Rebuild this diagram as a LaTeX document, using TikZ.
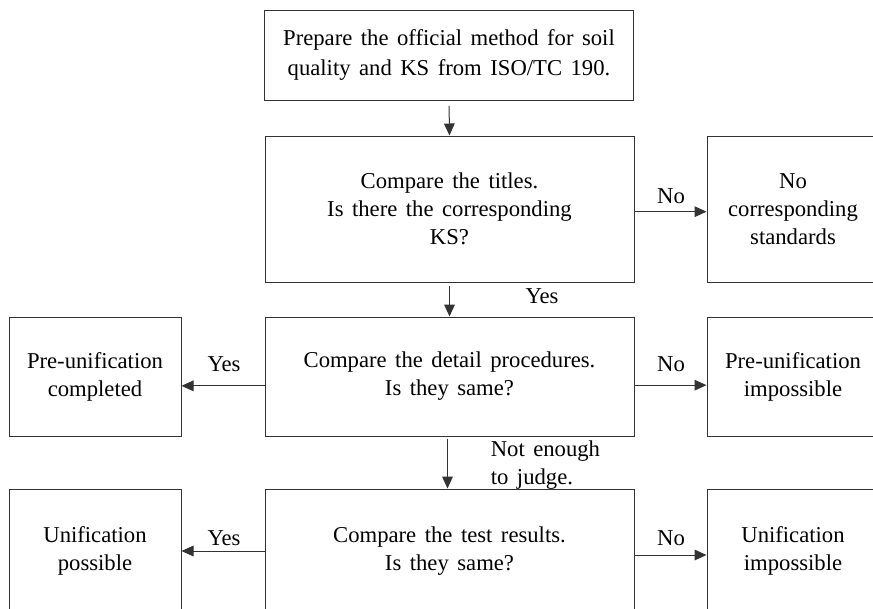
\documentclass[tikz,border=0pt]{standalone}
\usepackage{fontspec}
\setmainfont{Liberation Serif}[WordSpace=1.5]
\usetikzlibrary{arrows.meta}
\tikzset{every picture/.style={line width=0.75pt}}
\definecolor{linegray}{RGB}{51,51,51}
\tikzset{
  box/.style={draw=linegray, align=center, inner sep=0pt, font=\fontsize{17}{21}\selectfont},
  mainbox/.style={box, minimum width=276.75pt},
  sidebox/.style={box, minimum width=129pt},
  lbl/.style={font=\fontsize{17}{21}\selectfont, inner sep=1pt},
  arr/.style={draw=linegray, -{Triangle[length=9pt,width=8pt]}}
}

\begin{document}
\begin{tikzpicture}[x=0.75pt,y=0.75pt,yscale=-1,xscale=1]
	\useasboundingbox (0,0) rectangle (873,608);
	\clip (0,0) rectangle (873,608);
	
	%Boxes, middle column
	\node [mainbox, minimum height=67.5pt, font=\fontsize{17}{22.5}\selectfont] (prep) at (449,55) {Prepare the official method for soil\\quality and KS from ISO/TC 190.};
	\node [mainbox, minimum height=109.5pt] (titles) at (449.5,209) {Compare the titles.\\Is there the corresponding\\KS?};
	\node [mainbox, minimum height=89.25pt] (detail) at (449.5,376.5) {Compare the detail procedures.\\Is they same?};
	\node [mainbox, minimum height=93pt] (test) at (449.5,551) {Compare the test results.\\Is they same?};
	
	%Boxes, side columns
	\node [sidebox, minimum height=109.5pt] (nocorr) at (793,209) {No\\corresponding\\standards};
	\node [sidebox, minimum height=89.25pt] (precomp) at (95,376.5) {Pre-unification\\completed};
	\node [sidebox, minimum height=89.25pt] (preimp) at (793,376.5) {Pre-unification\\impossible};
	\node [sidebox, minimum height=93pt] (unipos) at (95,551) {Unification\\possible};
	\node [sidebox, minimum height=93pt] (uniimp) at (793,551) {Unification\\impossible};
	
	%Arrows down
	\draw [arr, shorten <=4pt] (prep.south) -- (titles.north);
	\draw [arr, shorten <=2.5pt] (titles.south) -- (detail.north);
	\draw [arr, shorten <=1.5pt] ([xshift=-1.5pt]detail.south) -- ([xshift=-1.5pt]test.north);
	
	%Arrows sideways
	\draw [arr] ([yshift=2pt]titles.east) -- ([yshift=2pt]nocorr.west);
	\draw [arr] ([yshift=7pt]detail.west) -- ([yshift=7pt]precomp.east);
	\draw [arr] ([yshift=6.5pt]detail.east) -- ([yshift=6.5pt]preimp.west);
	\draw [arr] (test.west) -- (unipos.east);
	\draw [arr] ([yshift=3pt]test.east) -- ([yshift=3pt]uniimp.west);
	
	% Text Node
	\node [lbl] (no1) at (671,196) {No};
	% Text Node
	\node [lbl] (yes1) at (542,296) {Yes};
	% Text Node
	\node [lbl] (yes2) at (224,364) {Yes};
	% Text Node
	\node [lbl] (no2) at (671,364) {No};
	% Text Node
	\node [lbl, anchor=west, align=left] (judge) at (489,465) {Not enough\\to judge.};
	% Text Node
	\node [lbl] (yes3) at (224,538) {Yes};
	% Text Node
	\node [lbl] (no3) at (671,538) {No};
\end{tikzpicture}
\end{document}
